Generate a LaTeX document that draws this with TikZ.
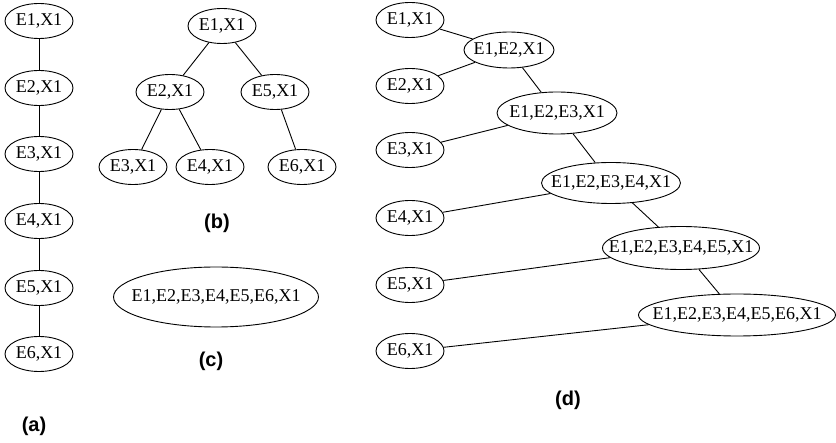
\documentclass[tikz,border=0pt]{standalone}
\usepackage{fontspec}
\setmainfont{Liberation Serif}
\newfontfamily\labfont{Liberation Sans}
\usetikzlibrary{shapes.geometric}
\newcommand\ntext[1]{\makebox[0pt][c]{#1}}
\begin{document}
\begin{tikzpicture}[x=1pt,y=-1pt,
  nd/.style={draw,ellipse,line width=0.9pt,inner sep=0pt,minimum width=68pt,minimum height=35pt,font=\fontsize{18}{21}\selectfont},
  lab/.style={font=\labfont\bfseries\fontsize{20}{24}\selectfont},
  edge/.style={line width=0.9pt}]
\useasboundingbox (0,0) rectangle (836,443);
% (a)
\node[nd] (a1) at (39,21) {\ntext{E1,X1}};
\node[nd] (a2) at (39,88) {\ntext{E2,X1}};
\node[nd] (a3) at (39,154) {\ntext{E3,X1}};
\node[nd] (a4) at (39,221) {\ntext{E4,X1}};
\node[nd] (a5) at (39,288) {\ntext{E5,X1}};
\node[nd] (a6) at (39,354) {\ntext{E6,X1}};
\draw[edge] (a1)--(a2) (a2)--(a3) (a3)--(a4) (a4)--(a5) (a5)--(a6);
\node[lab] (la) at (34,426) {(a)};
% (b)
\node[nd] (b1) at (222,26) {\ntext{E1,X1}};
\node[nd] (b2) at (170,92) {\ntext{E2,X1}};
\node[nd] (b5) at (275,92) {\ntext{E5,X1}};
\node[nd] (b3) at (133,167) {\ntext{E3,X1}};
\node[nd] (b4) at (210,167) {\ntext{E4,X1}};
\node[nd] (b6) at (302,167) {\ntext{E6,X1}};
\draw[edge] (b1)--(b2) (b1)--(b5) (b2)--(b3) (b2)--(b4) (b5)--(b6);
\node[lab] (lb) at (217,223) {(b)};
% (c)
\node[nd,minimum width=205pt,minimum height=60pt] (c) at (216,297) {\ntext{E1,E2,E3,E4,E5,E6,X1}};
\node[lab] (lc) at (211,361) {(c)};
% (d)
\node[nd] (d1) at (410,20) {\ntext{E1,X1}};
\node[nd] (d2) at (410,86) {\ntext{E2,X1}};
\node[nd] (d3) at (410,150) {\ntext{E3,X1}};
\node[nd] (d4) at (410,218) {\ntext{E4,X1}};
\node[nd] (d5) at (410,285) {\ntext{E5,X1}};
\node[nd] (d6) at (410,351) {\ntext{E6,X1}};
\node[nd,minimum width=90pt,minimum height=36pt] (d12) at (509,50) {\ntext{E1,E2,X1}};
\node[nd,minimum width=120pt,minimum height=42pt] (d123) at (557,113) {\ntext{E1,E2,E3,X1}};
\node[nd,minimum width=139pt,minimum height=41pt] (d1234) at (611,183) {\ntext{E1,E2,E3,E4,X1}};
\node[nd,minimum width=157pt,minimum height=43pt] (d12345) at (681,248) {\ntext{E1,E2,E3,E4,E5,X1}};
\node[nd,minimum width=197pt,minimum height=42pt] (d123456) at (737,315) {\ntext{E1,E2,E3,E4,E5,E6,X1}};
\draw[edge] (d1)--(d12) (d2)--(d12) (d12)--(d123) (d3)--(d123)
  (d123)--(d1234) (d4)--(d1234) (d1234)--(d12345) (d5)--(d12345)
  (d12345)--(d123456) (d6)--(d123456);
\node[lab] (ld) at (568,400) {(d)};
\end{tikzpicture}
\end{document}
